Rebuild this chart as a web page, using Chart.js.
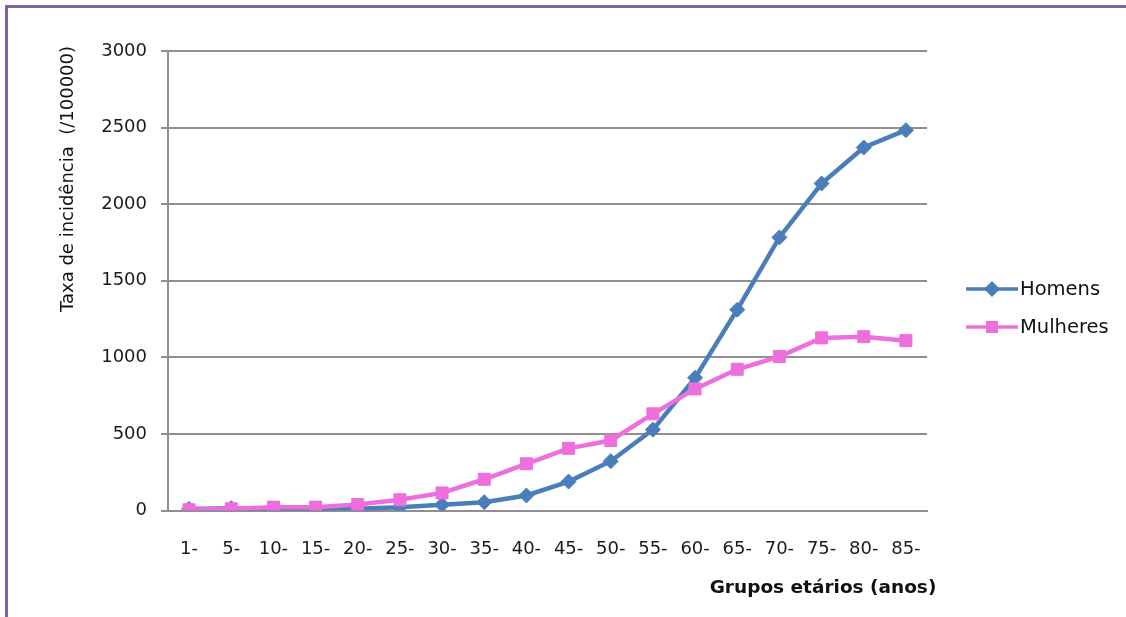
<!DOCTYPE html>
<html>
<head>
<meta charset="utf-8">
<script src="https://cdn.jsdelivr.net/npm/chart.js@4.4.1/dist/chart.umd.min.js"></script>
<style>
  html, body { margin: 0; padding: 0; background: #fff; }
  #frame {
    position: absolute; left: 5px; top: 5px; right: 0; bottom: 0;
    border-left: 3px solid #8064a2; border-top: 3px solid #8064a2;
  }
  #grafico { position: absolute; left: 0; top: 0; }
</style>
</head>
<body>
<div id="frame"></div>
<canvas id="grafico" width="1126" height="617"></canvas>
<script>
// Dados
const grupos = ['1-', '5-', '10-', '15-', '20-', '25-', '30-', '35-', '40-', '45-',
  '50-', '55-', '60-', '65-', '70-', '75-', '80-', '85-'];
const homens = [10, 15, 5, 5, 11, 22, 37, 54, 98, 189, 322, 528, 866, 1311, 1783, 2135, 2370, 2483];
const mulheres = [5, 11, 22, 22, 39, 70, 115, 204, 305, 406, 457, 631, 794, 922, 1005, 1127, 1135, 1109];
const yTicks = [0, 500, 1000, 1500, 2000, 2500, 3000];

const tituloY = 'Taxa de incidência  (/100000)';
const tituloX = 'Grupos etários (anos)';

const AZUL = '#4a7ebb';
const ROSA = '#ee6fdc';
const FONTE = '"DejaVu Sans", sans-serif';

// Títulos dos eixos e legenda (estilo Excel)
const extras = {
  id: 'extras',
  afterDraw(chart) {
    const ctx = chart.ctx;
    ctx.save();
    ctx.fillStyle = '#111';
    ctx.textAlign = 'center';
    ctx.textBaseline = 'middle';

    // título do eixo Y
    ctx.font = '18px ' + FONTE;
    ctx.translate(68, 179);
    ctx.rotate(-Math.PI / 2);
    ctx.fillText(tituloY, 0, 0);
    ctx.setTransform(1, 0, 0, 1, 0, 0);

    // título do eixo X
    ctx.font = 'bold 18.5px ' + FONTE;
    ctx.fillText(tituloX, 823, 588);

    // legenda
    ctx.font = '19.5px ' + FONTE;
    ctx.textAlign = 'left';
    const ys = [289, 327];
    chart.data.datasets.forEach((ds, i) => {
      const y = ys[i];
      ctx.strokeStyle = ds.borderColor;
      ctx.lineWidth = 3.5;
      ctx.beginPath();
      ctx.moveTo(966, y);
      ctx.lineTo(1018, y);
      ctx.stroke();
      ctx.fillStyle = ds.backgroundColor;
      ctx.strokeStyle = ds.borderColor;
      Chart.helpers.drawPoint(ctx, {
        pointStyle: ds.pointStyle,
        radius: ds.pointStyle === 'rectRot' ? 5.5 : 6,
        borderWidth: 1
      }, 992, y);
      ctx.fillStyle = '#111';
      ctx.fillText(ds.label, 1020, y + 1);
    });
    ctx.restore();
  }
};

new Chart(document.getElementById('grafico'), {
  type: 'line',
  data: {
    labels: grupos,
    datasets: [
      {
        label: 'Homens',
        data: homens,
        borderColor: AZUL,
        backgroundColor: AZUL,
        borderWidth: 4.5,
        pointStyle: 'rectRot',
        pointRadius: 7.5,
        pointBorderWidth: 1,
        tension: 0,
        order: 1
      },
      {
        label: 'Mulheres',
        data: mulheres,
        borderColor: ROSA,
        backgroundColor: ROSA,
        borderWidth: 4.5,
        pointStyle: 'rect',
        pointRadius: 8.5,
        pointBorderWidth: 1,
        tension: 0,
        order: 0
      }
    ]
  },
  options: {
    responsive: false,
    animation: false,
    layout: {
      padding: { left: 10, right: 199, top: 51, bottom: 0 }
    },
    plugins: {
      legend: { display: false },
      tooltip: { enabled: false }
    },
    scales: {
      x: {
        offset: true,
        grid: { display: false, offset: true },
        border: { display: true, color: '#8f8f8f', width: 2 },
        ticks: {
          color: '#1a1a1a',
          font: { family: FONTE, size: 18 },
          padding: 20,
          maxRotation: 0,
          autoSkip: false
        },
        afterFit(scale) { scale.height = 106.5; }
      },
      y: {
        min: 0,
        max: 3000,
        afterBuildTicks(scale) { scale.ticks = yTicks.map(v => ({ value: v })); },
        grid: { color: '#8f8f8f', lineWidth: 2, tickLength: 7 },
        border: { display: true, color: '#8f8f8f', width: 2 },
        ticks: {
          color: '#1a1a1a',
          font: { family: FONTE, size: 18 },
          padding: 14,
          callback: v => String(v)
        },
        afterFit(scale) { scale.width = 158; }
      }
    }
  },
  plugins: [extras]
});
</script>
</body>
</html>
